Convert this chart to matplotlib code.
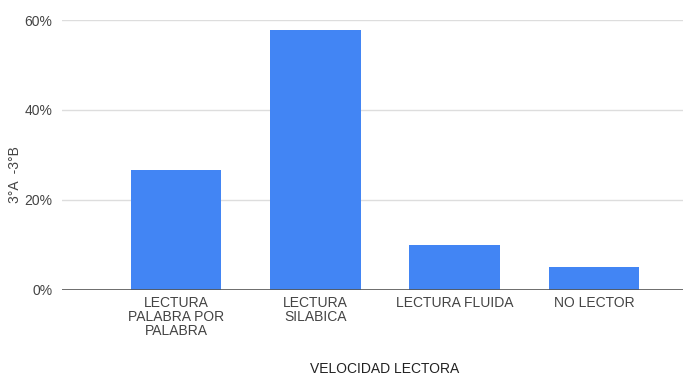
import matplotlib
matplotlib.use('Agg')
import matplotlib.pyplot as plt
from matplotlib.ticker import PercentFormatter

# porcentaje de alumnos por nivel de velocidad lectora
categorias = ['LECTURA\nPALABRA POR\nPALABRA', 'LECTURA\nSILABICA', 'LECTURA FLUIDA', 'NO LECTOR']
porcentajes = [26.7, 57.8, 10.0, 5.0]
ticks_y = [0, 20, 40, 60]

plt.rcParams['font.family'] = ['Liberation Sans', 'DejaVu Sans']

fig = plt.figure(figsize=(6.83, 3.77), dpi=100)
ax = fig.add_axes([62 / 683, 1 - 289.5 / 377, 1 - 62 / 683, 269.5 / 377])

x = range(len(categorias))
ax.bar(x, porcentajes, width=0.65, color='#4285F4', zorder=3)

ax.set_ylim(0, 60)
ax.set_xlim(-0.82, 3.64)
ax.set_yticks(ticks_y)
ax.yaxis.set_major_formatter(PercentFormatter(decimals=0))
ax.grid(axis='y', color='#dddddd', linewidth=1, zorder=0)
ax.axhline(0, color='#555555', linewidth=1.2, zorder=4)

for s in ax.spines.values():
    s.set_visible(False)
ax.tick_params(length=0, labelsize=10, colors='#444444')
ax.tick_params(axis='y', pad=7)
ax.tick_params(axis='x', pad=5)
ax.set_xticks(list(x))
ax.set_xticklabels(categorias, linespacing=1.0, va='top')

ax.set_ylabel('3°A  -3°B', fontsize=10, color='#444444')
ax.yaxis.set_label_coords(-0.064, 0.425)
ax.set_xlabel('VELOCIDAD LECTORA', fontsize=10, color='#222222')
ax.xaxis.set_label_coords(0.52, -0.27)

fig.savefig('out.png', dpi=100)
